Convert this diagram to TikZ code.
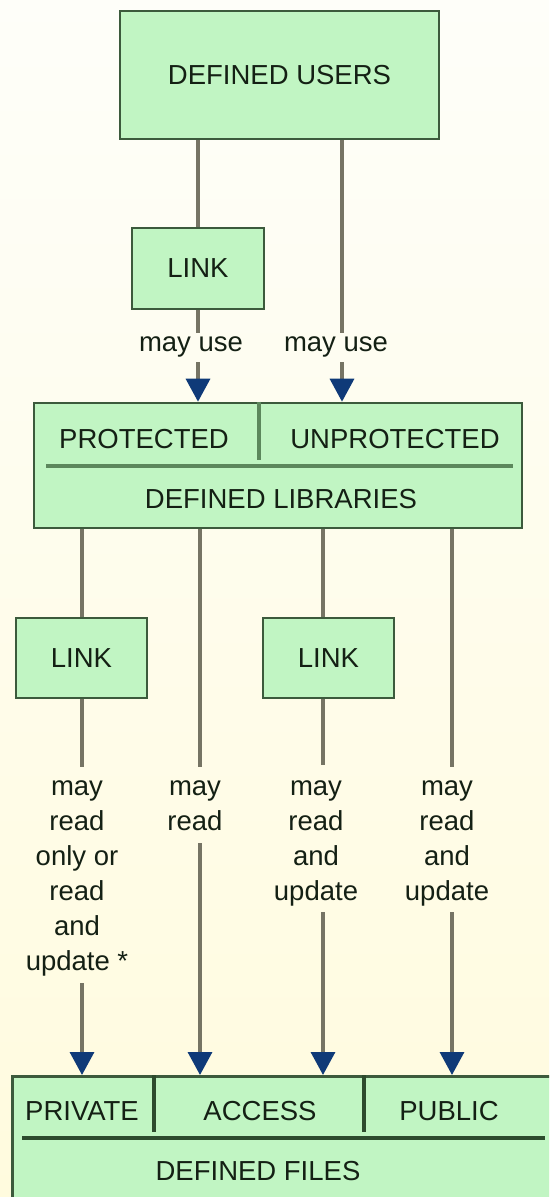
\documentclass[tikz,border=0pt]{standalone}
\usepackage{fontspec}
\setmainfont{Liberation Sans}
\usetikzlibrary{arrows.meta}
\definecolor{boxfill}{RGB}{193,245,195}
\definecolor{boxline}{RGB}{60,90,60}
\definecolor{divlight}{RGB}{92,135,92}
\definecolor{divdark}{RGB}{45,75,45}
\definecolor{connc}{RGB}{118,116,100}
\definecolor{arrowblue}{RGB}{15,58,120}
\definecolor{txt}{RGB}{20,32,20}
\definecolor{bgtop}{RGB}{254,254,249}
\definecolor{bgbot}{RGB}{255,251,222}
\begin{document}
\begin{tikzpicture}[x=1pt,y=-1pt,
  box/.style={draw=boxline, line width=2.6pt, fill=boxfill, inner sep=0pt, text=txt, font=\fontsize{27.5}{35}\selectfont},
  lbl/.style={text=txt, inner sep=0pt, font=\fontsize{27.5}{35}\selectfont, align=center},
  conn/.style={draw=connc, line width=3.3pt},
  arr/.style={conn, -{Triangle[length=23pt,width=24pt,color=arrowblue,fill=arrowblue]}},
  divl/.style={draw=divlight, line width=3.2pt},
  divd/.style={draw=divdark, line width=3.2pt}]
\useasboundingbox (0,0) rectangle (549,1197);
\clip (0,0) rectangle (549,1197);
\shade[top color=bgtop, bottom color=bgbot] (0,0) rectangle (549,1197);

% boxes
\node[box, minimum width=319pt, minimum height=128pt] (users) at (279.5,75) {DEFINED USERS};
\node[box, minimum width=132pt, minimum height=81pt] (link1) at (198,268.5) {LINK};
\node[box, minimum width=488pt, minimum height=125pt] (libs) at (278,465.5) {};
\node[box, minimum width=131pt, minimum height=80pt] (link2) at (81.5,658) {LINK};
\node[box, minimum width=131pt, minimum height=80pt] (link3) at (328.5,658) {LINK};
\node[box, minimum width=560pt, minimum height=140pt, anchor=north west] (files) at (11,1075) {};

% libraries box inner dividers
\coordinate (ldv) at (259,460);
\draw[divl] (ldv |- libs.north) -- (ldv);
\draw[divl] (46,466) -- (513,466);
\node[lbl, anchor=base] (tprot) at (144,448) {PROTECTED};
\node[lbl, anchor=base] (tunprot) at (395,448) {UNPROTECTED};
\node[lbl, anchor=base] (tlibs) at (281,508) {DEFINED LIBRARIES};

% files box inner dividers
\coordinate (fdv1) at (154,1132);
\coordinate (fdv2) at (364,1132);
\draw[divd] (fdv1 |- files.north) -- (fdv1);
\draw[divd] (fdv2 |- files.north) -- (fdv2);
\draw[divd] (22,1138) -- (545,1138);
\node[lbl, anchor=base] (tpriv) at (82,1120) {PRIVATE};
\node[lbl, anchor=base] (tacc) at (260,1120) {ACCESS};
\node[lbl, anchor=base] (tpub) at (449,1120) {PUBLIC};
\node[lbl, anchor=base] (tfiles) at (258,1180) {DEFINED FILES};

% labels
\node[lbl, anchor=base] (mu1) at (191,351) {may use};
\node[lbl, anchor=base] (mu2) at (336,351) {may use};
\node[lbl, anchor=north] (l1) at (77,780.5) {may\\read\\only or\\read\\and\\update *};
\node[lbl, anchor=north] (l2) at (195,780.5) {may\\read};
\node[lbl, anchor=north] (l3) at (316,780.5) {may\\read\\and\\update};
\node[lbl, anchor=north] (l4) at (447,780.5) {may\\read\\and\\update};

% connectors: users -> libraries
\draw[conn] (link1.north |- users.south) -- (link1.north);
\coordinate (a1) at (198,333);
\coordinate (a2) at (198,362);
\draw[conn] (link1.south) -- (a1);
\draw[arr] (a2) -- (a2 |- libs.north);
\coordinate (b1) at (342,333);
\coordinate (b2) at (342,362);
\draw[conn] (b1 |- users.south) -- (b1);
\draw[arr] (b2) -- (b2 |- libs.north);

% connectors: libraries -> files
\coordinate (c1) at (82,767);
\coordinate (c2) at (82,983);
\draw[conn] (c1 |- libs.south) -- (c1 |- link2.north);
\draw[conn] (c1 |- link2.south) -- (c1);
\draw[arr] (c2) -- (c2 |- files.north);

\coordinate (d1) at (200,767);
\coordinate (d2) at (200,843);
\draw[conn] (d1 |- libs.south) -- (d1);
\draw[arr] (d2) -- (d2 |- files.north);

\coordinate (e1) at (323,765);
\coordinate (e2) at (323,912);
\draw[conn] (e1 |- libs.south) -- (e1 |- link3.north);
\draw[conn] (e1 |- link3.south) -- (e1);
\draw[arr] (e2) -- (e2 |- files.north);

\coordinate (f1) at (452,767);
\coordinate (f2) at (452,912);
\draw[conn] (f1 |- libs.south) -- (f1);
\draw[arr] (f2) -- (f2 |- files.north);
\end{tikzpicture}
\end{document}
